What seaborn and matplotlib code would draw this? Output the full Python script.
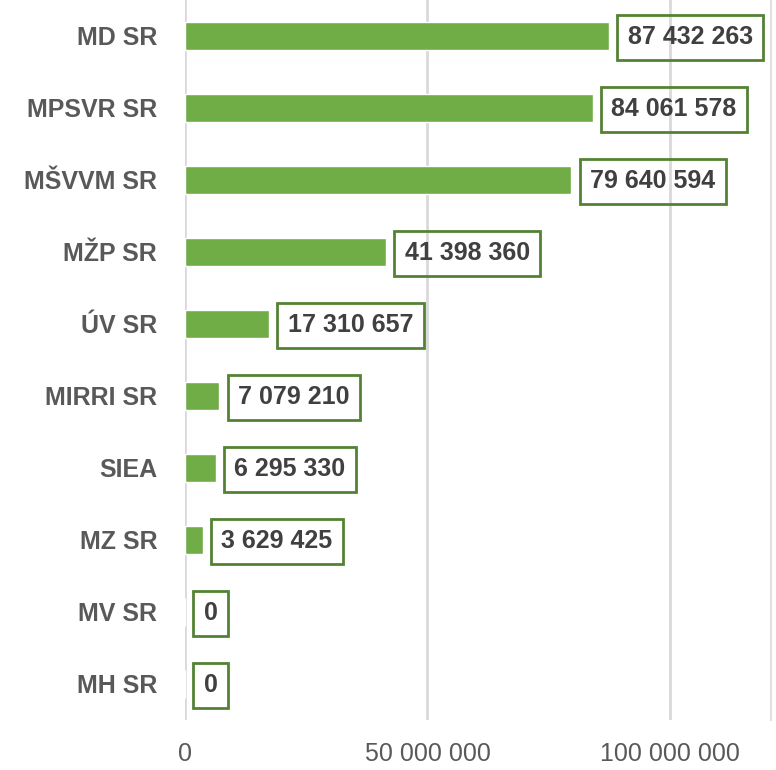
import numpy as np
import pandas as pd
import matplotlib
matplotlib.use("Agg")
import matplotlib.pyplot as plt
import seaborn as sns

ministries = ["MD SR", "MPSVR SR", "MŠVVM SR", "MŽP SR", "ÚV SR",
              "MIRRI SR", "SIEA", "MZ SR", "MV SR", "MH SR"]
amounts = [87432263, 84061578, 79640594, 41398360, 17310657,
           7079210, 6295330, 3629425, 0, 0]
xticks = [0, 50000000, 100000000]

df = pd.DataFrame({"ministry": ministries, "amount": amounts})

sns.set_style("white")
plt.rcParams["font.family"] = ["Liberation Sans", "DejaVu Sans"]

fig = plt.figure(figsize=(7.76, 7.70), dpi=100)
ax = fig.add_axes([0.2384, 0.065, 0.755, 0.935])

sns.barplot(data=df, x="amount", y="ministry", color="#70AD47",
            width=0.38, saturation=1, ax=ax, zorder=3)

def fmt(v):
    return f"{v:,}".replace(",", " ")

for i, v in enumerate(amounts):
    ax.annotate(fmt(v), xy=(v, i + 0.02), xytext=(13.5, 0), textcoords="offset points",
                ha="left", va="center", fontsize=18, fontweight="bold",
                color="#404040", zorder=5,
                bbox=dict(boxstyle="square,pad=0.42", fc="none",
                          ec="#548235", lw=2))

ax.set_xlim(0, 120.8e6)
ax.set_ylim(9.5, -0.5)
ax.set_xticks(xticks)
ax.set_xticklabels([fmt(t) for t in xticks], fontsize=18, color="#595959")
ax.tick_params(axis="x", length=0, pad=16)
ax.tick_params(axis="y", length=0, pad=20)
for lab in ax.get_yticklabels():
    lab.set_fontsize(18)
    lab.set_fontweight("bold")
    lab.set_color("#595959")
ax.set_xlabel("")
ax.set_ylabel("")
ax.xaxis.grid(True, color="#D9D9D9", lw=2, zorder=0)
ax.set_axisbelow(True)
for s in ["top", "bottom", "left"]:
    ax.spines[s].set_visible(False)
ax.spines["right"].set_color("#E0E0E0")
ax.spines["right"].set_linewidth(1.5)

fig.savefig("out.png", dpi=100)
